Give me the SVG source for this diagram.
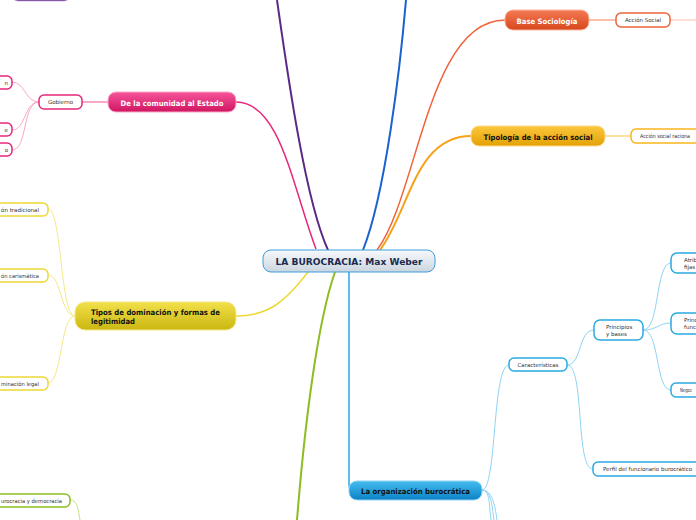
<svg xmlns="http://www.w3.org/2000/svg" width="696" height="520" viewBox="0 0 696 520">
<defs>
<linearGradient id="gCenter" x1="0" y1="0" x2="0" y2="1"><stop offset="0" stop-color="#f7f9fb"/><stop offset="1" stop-color="#cbd5df"/></linearGradient>
<linearGradient id="gPink" x1="0" y1="0" x2="0" y2="1"><stop offset="0" stop-color="#f5559c"/><stop offset="1" stop-color="#d01560"/></linearGradient>
<linearGradient id="gRed" x1="0" y1="0" x2="0" y2="1"><stop offset="0" stop-color="#f47a54"/><stop offset="1" stop-color="#d8461c"/></linearGradient>
<linearGradient id="gOrange" x1="0" y1="0" x2="0" y2="1"><stop offset="0" stop-color="#fcc73c"/><stop offset="1" stop-color="#e3a106"/></linearGradient>
<linearGradient id="gYellow" x1="0" y1="0" x2="0" y2="1"><stop offset="0" stop-color="#f1e04a"/><stop offset="1" stop-color="#cbb711"/></linearGradient>
<linearGradient id="gBlue" x1="0" y1="0" x2="0" y2="1"><stop offset="0" stop-color="#45bdf0"/><stop offset="1" stop-color="#0a82c6"/></linearGradient>
<linearGradient id="gPurple" x1="0" y1="0" x2="0" y2="1"><stop offset="0" stop-color="#7a3fa8"/><stop offset="1" stop-color="#55247f"/></linearGradient>
</defs>
<style>
.t1{font-family:"DejaVu Sans","Liberation Sans",sans-serif;font-weight:bold;font-size:7.5px;}
.t0{font-family:"DejaVu Sans","Liberation Sans",sans-serif;font-weight:bold;font-size:9px;fill:#1b2a4e;}
.t2{font-family:"DejaVu Sans","Liberation Sans",sans-serif;font-size:5.5px;fill:#333;}
.c{fill:none;}
.sub{fill:#fff;stroke-width:1.5;}
</style>

<g id="connectors">
<path class="c" d="M 328 250 C 305 200, 287 70, 277 0" stroke="#5b2a86" stroke-width="2"/>
<path class="c" d="M 316 249 C 292 185, 280 102, 236 102" stroke="#e8287a" stroke-width="1.5"/>
<path class="c" d="M 363 250 C 385 195, 400 70, 406 0" stroke="#1a62d0" stroke-width="2"/>
<path class="c" d="M 377 250 C 418 195, 428 20, 505 20" stroke="#f0643c" stroke-width="1.5"/>
<path class="c" d="M 380 250 C 410 210, 415 136, 471 136" stroke="#f7a21b" stroke-width="2"/>
<path class="c" d="M 308 272 C 285 302, 268 316, 236 316" stroke="#ecd936" stroke-width="1.5"/>
<path class="c" d="M 335 272 C 318 320, 305 420, 297 520" stroke="#8cbd22" stroke-width="2"/>
<path class="c" d="M 349 272 L 349 484 Q 349 490 352 490" stroke="#29abe2" stroke-width="1.5"/>
<path class="c" d="M 589 20 L 616 20" stroke="#fbbfa9" stroke-width="2"/>
<path class="c" d="M 670 20 L 696 20" stroke="#fbbfa9" stroke-width="1"/>
<path class="c" d="M 605 136 L 631 136" stroke="#fde09a" stroke-width="2"/>
<path class="c" d="M 108 102 L 82 102" stroke="#f9a8c8" stroke-width="2"/>
<path class="c" d="M 39 102 C 25 102, 25 82, 12 82" stroke="#f9a8c8" stroke-width="1"/>
<path class="c" d="M 39 102 C 24 102, 26 130, 12 130" stroke="#f9a8c8" stroke-width="1"/>
<path class="c" d="M 39 102 C 22 102, 28 150, 12 150" stroke="#f9a8c8" stroke-width="1"/>
<path class="c" d="M 75 316 C 60 316, 62 209, 48 209" stroke="#f5e88a" stroke-width="1"/>
<path class="c" d="M 75 316 C 60 316, 62 275, 48 275" stroke="#f5e88a" stroke-width="1"/>
<path class="c" d="M 75 316 C 60 316, 62 383, 48 383" stroke="#f5e88a" stroke-width="1"/>
<path class="c" d="M 70 500 C 78 500, 78 510, 80 520" stroke="#c5e08a" stroke-width="1"/>
<path class="c" d="M 482 490 C 497 490, 492 365, 509 365" stroke="#8fd3f5" stroke-width="1"/>
<path class="c" d="M 482 490 C 490 490, 489 505, 491 520" stroke="#8fd3f5" stroke-width="1"/>
<path class="c" d="M 482 490 C 491 490, 492 505, 494 520" stroke="#8fd3f5" stroke-width="1"/>
<path class="c" d="M 482 490 C 492 490, 495 505, 497 520" stroke="#8fd3f5" stroke-width="1"/>
<path class="c" d="M 567 365 C 582 365, 578 330, 594 330" stroke="#8fd3f5" stroke-width="1"/>
<path class="c" d="M 567 365 C 585 365, 575 469, 593 469" stroke="#8fd3f5" stroke-width="1"/>
<path class="c" d="M 643 330 C 660 330, 655 263, 671 263" stroke="#8fd3f5" stroke-width="1"/>
<path class="c" d="M 643 330 C 658 330, 658 323, 671 323" stroke="#8fd3f5" stroke-width="1"/>
<path class="c" d="M 643 330 C 660 330, 655 390, 671 390" stroke="#8fd3f5" stroke-width="1"/>
</g>

<g id="node-purple">
<rect x="12" y="-19" width="58" height="20" rx="6" fill="url(#gPurple)" stroke="#c9a6e0" stroke-width="0.8"/>
</g>

<g id="node-center">
<rect x="263" y="250" width="172" height="22" rx="8" fill="url(#gCenter)" stroke="#3d9ddc" stroke-width="1"/>
<text class="t0" x="349" y="265" text-anchor="middle" textLength="147" lengthAdjust="spacingAndGlyphs">LA BUROCRACIA: Max Weber</text>
</g>

<g id="node-base">
<rect x="505" y="10" width="84" height="20" rx="8" fill="url(#gRed)" stroke="#fbb79f" stroke-width="1"/>
<text class="t1" x="547" y="23.5" text-anchor="middle" fill="#fff" textLength="61" lengthAdjust="spacingAndGlyphs">Base Sociología</text>
</g>
<g id="node-accion-social">
<rect class="sub" x="616" y="13" width="54" height="14" rx="5" stroke="#f0643c"/>
<text class="t2" x="643" y="22" text-anchor="middle">Acción Social</text>
</g>

<g id="node-tipologia">
<rect x="471" y="126" width="134" height="20" rx="8" fill="url(#gOrange)" stroke="#fdd98a" stroke-width="1"/>
<text class="t1" x="538" y="139.5" text-anchor="middle" fill="#111" textLength="109" lengthAdjust="spacingAndGlyphs">Tipología de la acción social</text>
</g>
<g id="node-accion-racional">
<rect class="sub" x="631" y="129" width="80" height="14" rx="5" stroke="#f7b51b"/>
<text class="t2" x="640" y="138" textLength="50" lengthAdjust="spacingAndGlyphs">Acción social raciona</text>
</g>

<g id="node-comunidad">
<rect x="108" y="92" width="128" height="20" rx="8" fill="url(#gPink)" stroke="#f9a8c8" stroke-width="1"/>
<text class="t1" x="172" y="105.5" text-anchor="middle" fill="#fff" textLength="103" lengthAdjust="spacingAndGlyphs">De la comunidad al Estado</text>
</g>
<g id="node-gobierno">
<rect class="sub" x="39" y="95" width="43" height="14" rx="5" stroke="#e8287a"/>
<text class="t2" x="60.5" y="104" text-anchor="middle">Gobierno</text>
</g>
<g id="node-gob-1">
<rect class="sub" x="-20" y="76" width="32" height="13" rx="5" stroke="#e8287a"/>
<text class="t2" x="8" y="84.5" text-anchor="end">n</text>
</g>
<g id="node-gob-2">
<rect class="sub" x="-20" y="123" width="32" height="13" rx="5" stroke="#e8287a"/>
<text class="t2" x="8" y="131.5" text-anchor="end">e</text>
</g>
<g id="node-gob-3">
<rect class="sub" x="-20" y="143" width="32" height="13" rx="5" stroke="#e8287a"/>
<text class="t2" x="8" y="151.5" text-anchor="end">o</text>
</g>

<g id="node-tipos">
<rect x="75" y="302" width="161" height="28" rx="10" fill="url(#gYellow)" stroke="#f5e88a" stroke-width="1"/>
<text class="t1" x="91" y="315" fill="#111" textLength="129" lengthAdjust="spacingAndGlyphs">Tipos de dominación y formas de</text>
<text class="t1" x="91" y="324" fill="#111" textLength="44" lengthAdjust="spacingAndGlyphs">legitimidad</text>
</g>
<g id="node-dom-tradicional">
<rect class="sub" x="-40" y="203" width="88" height="13" rx="5" stroke="#ecd936"/>
<text class="t2" x="1" y="211.5" textLength="38" lengthAdjust="spacingAndGlyphs">ón tradicional</text>
</g>
<g id="node-dom-carismatica">
<rect class="sub" x="-40" y="269" width="88" height="13" rx="5" stroke="#ecd936"/>
<text class="t2" x="1" y="277.5" textLength="38" lengthAdjust="spacingAndGlyphs">ón carismática</text>
</g>
<g id="node-dom-legal">
<rect class="sub" x="-40" y="377" width="88" height="13" rx="5" stroke="#ecd936"/>
<text class="t2" x="1" y="385.5" textLength="38" lengthAdjust="spacingAndGlyphs">minación legal</text>
</g>

<g id="node-burocracia-democracia">
<rect class="sub" x="-40" y="494" width="110" height="13" rx="5" stroke="#8cbd22"/>
<text class="t2" x="1" y="502.5" textLength="61" lengthAdjust="spacingAndGlyphs">urocracia y democracia</text>
</g>

<g id="node-organizacion">
<rect x="349" y="481" width="133" height="19" rx="8" fill="url(#gBlue)" stroke="#8fd3f5" stroke-width="1"/>
<text class="t1" x="415.5" y="494" text-anchor="middle" fill="#111" textLength="109" lengthAdjust="spacingAndGlyphs">La organización burocrática</text>
</g>
<g id="node-caracteristicas">
<rect class="sub" x="509" y="358" width="58" height="13" rx="5" stroke="#29abe2"/>
<text class="t2" x="538" y="366.5" text-anchor="middle">Características</text>
</g>
<g id="node-principios">
<rect class="sub" x="594" y="320" width="49" height="20" rx="6" stroke="#29abe2"/>
<text class="t2" x="606" y="328.5">Principios</text>
<text class="t2" x="606" y="335.5">y bases</text>
</g>
<g id="node-perfil">
<rect class="sub" x="593" y="462" width="110" height="14" rx="5" stroke="#29abe2"/>
<text class="t2" x="603" y="471" textLength="89" lengthAdjust="spacingAndGlyphs">Perfil del funcionario burocrático</text>
</g>
<g id="node-atribuciones">
<rect class="sub" x="671" y="253" width="40" height="20" rx="6" stroke="#29abe2"/>
<text class="t2" x="684" y="261.5">Atrib</text>
<text class="t2" x="684" y="268.5">fijas</text>
</g>
<g id="node-principio-func">
<rect class="sub" x="671" y="313" width="40" height="21" rx="6" stroke="#29abe2"/>
<text class="t2" x="684" y="321.5">Princ</text>
<text class="t2" x="684" y="328.5">func</text>
</g>
<g id="node-negocios">
<rect class="sub" x="671" y="383" width="40" height="14" rx="5" stroke="#29abe2"/>
<text class="t2" x="680" y="392" textLength="12" lengthAdjust="spacingAndGlyphs">Negoc</text>
</g>
</svg>
